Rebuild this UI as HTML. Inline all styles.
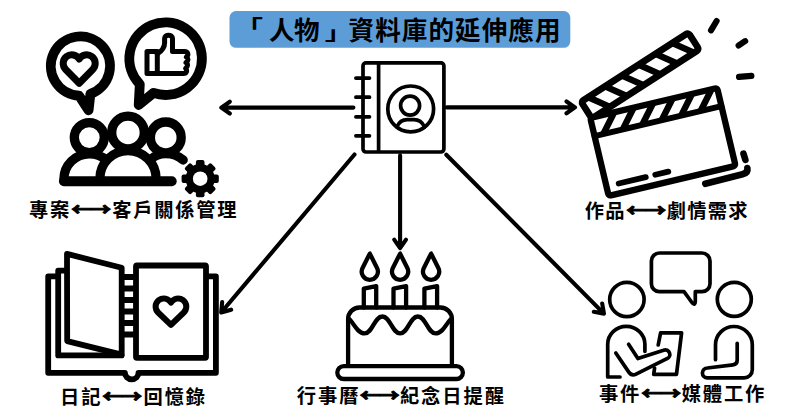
<!DOCTYPE html>
<html lang="zh-Hant">
<head>
<meta charset="utf-8">
<title>「人物」資料庫的延伸應用</title>
<style>
html,body{margin:0;padding:0;background:#fff;}
body{width:800px;height:420px;overflow:hidden;position:relative;font-family:"Liberation Sans","Noto Sans CJK TC",sans-serif;}
svg{position:absolute;left:0;top:0;display:block;}
.t{font-family:"Liberation Sans","Noto Sans CJK TC",sans-serif;font-weight:700;fill:#000;letter-spacing:1.2px;}
.ar{font-family:"Noto Sans CJK TC",sans-serif;font-weight:700;fill:#000;stroke:#000;stroke-width:1;stroke-linejoin:round;}
.ah{fill:#000;stroke:none;}
.s{fill:none;stroke:#000;stroke-width:4.1;stroke-linecap:round;stroke-linejoin:round;}
</style>
</head>
<body>
<svg width="800" height="420" viewBox="0 0 800 420">
<rect x="0" y="0" width="800" height="420" fill="#fff"/>
<!-- title -->
<rect x="229.5" y="11" width="340.8" height="36.8" rx="6.5" ry="6.5" fill="#5c9dd8"/>
<text class="t" font-size="26.2" style="letter-spacing:0" transform="translate(234.7 34.25) scale(1.08 0.75)">「</text>
<text class="t" y="39.6" font-size="25.6" style="letter-spacing:-0.5px"><tspan x="268.9">人物</tspan></text>
<text class="t" font-size="26.2" style="letter-spacing:0" transform="translate(324.85 40.25) scale(1.08 0.75)">」</text>
<text class="t" y="39.6" font-size="25.6" style="letter-spacing:1.03px"><tspan x="348.6">資料庫的延伸應用</tspan></text>

<!-- connector arrows -->
<g class="s">
<path d="M353.4 107.6H221.5M229.8 101.7L221.3 107.6L229.8 113.5"/>
<path d="M446.8 107.4H574.8M566.5 101.5L575 107.4L566.5 113.3"/>
<path d="M400.1 155.4V248M394.2 239.7L400.1 248.2L406 239.7"/>
<path d="M354.5 154.5L221.4 312.3M231.15 309.7L221.2 312.4L222.15 302.1"/>
<path d="M446.3 154.7L603.9 313.6M602.2 303.5L603.96 313.64L593.8 311.8"/>
</g>
<!-- contact book -->
<g class="s" style="stroke-width:3.7">
<rect x="363" y="62.9" width="80.9" height="89.1" rx="3" ry="3"/>
<path style="stroke-linecap:butt" d="M378.6 63V152"/>
<path d="M355.9 78.1H369.5M355.9 97.2H369.5M355.9 116.8H369.5M355.9 135.8H369.5"/>
<circle cx="410.7" cy="108.9" r="22.9"/>
<circle cx="410.1" cy="105.6" r="9.5"/>
<path d="M396.8 127C399 122 403 119.7 407.2 119.7H414C418.2 119.7 422.2 122 424.6 127"/>
</g>
<!-- top-left icon -->
<g class="s" style="stroke-width:9.8">
<path d="M79 95.6A29.6 29.6 0 1 1 90.4 93.9L88.6 110.3Z"/>
<path d="M153.5 92.9L138.7 105L139.8 84.2A36.3 36.3 0 1 1 153.5 92.9Z"/>
</g>
<path class="s" style="stroke-width:7" d="M79.20 83.20L65.67 69.43A8.6 8.6 0 1 1 79.20 59.02A8.6 8.6 0 1 1 92.73 69.43Z"/>
<g class="s" style="stroke-width:5">
<rect x="147" y="51.6" width="10.3" height="21.8"/>
<path d="M157.3 73.4H183.5C186.5 73.4 187.6 70.6 185.6 68.3C188 66.6 188.2 64 186 62.6C188.6 60.8 188.6 58.4 186.4 57C189 55 188 51.6 184.5 51.6H172.5V38.6C172.5 34 164.6 34 164.6 38.6V43C164.6 47 161 51.5 157.3 54"/>
</g>
<g class="s" style="stroke-width:9.3">
<circle cx="89.3" cy="137.6" r="15"/>
<circle cx="128" cy="132.5" r="16.3"/>
<circle cx="165.8" cy="137.4" r="15.4"/>
<path d="M63.9 181V179.2A25.4 25.4 0 0 1 89.3 153.8C97 153.8 103 157 106 160"/>
<path d="M99.9 181V178.7A28.1 28.1 0 0 1 156.1 178.7V181"/>
<path d="M150 160C154 156 160 153.6 165.8 153.6C173 153.6 179 156.3 183.2 160"/>
<path style="stroke-width:9.8" d="M63.9 181.25H171.8"/>
</g>
<circle cx="200.2" cy="178.7" r="14.6" fill="#000"/>
<rect x="195.90" y="160.10" width="8.6" height="8.00" rx="2" ry="2" fill="#000" transform="rotate(0.0 200.2 178.7)"/>
<rect x="195.90" y="160.10" width="8.6" height="8.00" rx="2" ry="2" fill="#000" transform="rotate(45.0 200.2 178.7)"/>
<rect x="195.90" y="160.10" width="8.6" height="8.00" rx="2" ry="2" fill="#000" transform="rotate(90.0 200.2 178.7)"/>
<rect x="195.90" y="160.10" width="8.6" height="8.00" rx="2" ry="2" fill="#000" transform="rotate(135.0 200.2 178.7)"/>
<rect x="195.90" y="160.10" width="8.6" height="8.00" rx="2" ry="2" fill="#000" transform="rotate(180.0 200.2 178.7)"/>
<rect x="195.90" y="160.10" width="8.6" height="8.00" rx="2" ry="2" fill="#000" transform="rotate(225.0 200.2 178.7)"/>
<rect x="195.90" y="160.10" width="8.6" height="8.00" rx="2" ry="2" fill="#000" transform="rotate(270.0 200.2 178.7)"/>
<rect x="195.90" y="160.10" width="8.6" height="8.00" rx="2" ry="2" fill="#000" transform="rotate(315.0 200.2 178.7)"/>
<circle cx="200.2" cy="178.7" r="7.3" fill="#fff"/>
<!-- clapperboard -->
<g transform="translate(581.1 101.82) rotate(-32.8)">
<rect x="0" y="0" width="127.6" height="19.9" fill="#fff" stroke="none"/>
<clipPath id="armclip"><rect x="0" y="0" width="127.6" height="19.9"/></clipPath>
<path class="s" clip-path="url(#armclip)" style="stroke-width:6.4;stroke-linecap:butt" d="M7.2 -1.99L22.8 21.89M27.2 -1.99L42.8 21.89M47.2 -1.99L62.8 21.89M67.2 -1.99L82.8 21.89M87.2 -1.99L102.8 21.89M107.2 -1.99L122.8 21.89"/>
<rect class="s" style="stroke-width:6.7" x="0" y="0" width="127.6" height="19.9" rx="2.6" ry="2.6"/>
</g>
<g transform="translate(590.25 117.93) rotate(-13.3)">
<rect x="0" y="0" width="130.4" height="80.1" fill="#fff" stroke="none"/>
<clipPath id="bandclip"><rect x="0" y="0" width="130.4" height="18.7"/></clipPath>
<path class="s" clip-path="url(#bandclip)" style="stroke-width:6.4;stroke-linecap:butt" d="M7.4 20.57L26.2 -1.87M27.4 20.57L46.2 -1.87M47.4 20.57L66.2 -1.87M67.4 20.57L86.2 -1.87M87.4 20.57L106.2 -1.87M107.4 20.57L126.2 -1.87"/>
<rect class="s" style="stroke-width:6.3" x="0" y="0" width="130.4" height="80.1" rx="2.4" ry="2.4"/>
<path class="s" style="stroke-width:5.8" d="M0 18.7H130.4"/>
<path class="s" style="stroke-width:5.8" d="M12.6 70.4H40.4M50.2 70.2H63.6"/>
</g>
<path class="s" style="stroke-width:6.6" d="M705.3 183.8L742.5 174.3Q748.3 172.8 747.4 168M743.5 153.7L745.4 159.9"/>
<path class="s" style="stroke-width:6.1" d="M716.6 21L711 30.4M745.2 41.1L738.6 45.6M751.4 75.9L739 76.9"/>
<!-- book -->
<g class="s" style="stroke-width:5.8;stroke-linejoin:miter">
<path style="stroke-linejoin:round" d="M57 276.4H48.2V372.8H124.9A6.8 6.5 0 0 0 138.5 372.8H215.9V276.4H208.5"/>
<path style="stroke-linejoin:round" d="M64.5 270.7H58.2V355.4H121.6"/>
<path style="stroke-linejoin:round" fill="#fff" d="M67 253.9L121.7 267.8V354.6L67.2 341.1Z"/>
<rect style="stroke-linejoin:round" fill="#fff" x="136" y="265.5" width="70" height="92.3" rx="1" ry="1"/>
</g>
<path class="s" style="stroke-width:6;stroke-linecap:butt" d="M121.7 276.90H136M121.7 288.40H136M121.7 299.90H136M121.7 311.40H136M121.7 322.90H136M121.7 334.40H136"/>
<path class="s" style="stroke-width:6" d="M170.95 324.90L158.10 312.50A8.2 8.2 0 1 1 170.95 302.59A8.2 8.2 0 1 1 183.80 312.50Z"/>
<!-- cake -->
<g class="s" style="stroke-width:4.3">
<rect x="337.3" y="366.1" width="125.6" height="12.9" rx="6.45" ry="6.45"/>
<path d="M348.1 364V319A11.5 11.5 0 0 1 359.6 307.5H440.4A11.5 11.5 0 0 1 451.9 319V364"/>
<path d="M348.3 318.5C352.5 320 356.5 333.4 364.6 333.4C372.59 333.4 374.36 316.5 382.35 316.5C390.34 316.5 392.11 333.4 400.1 333.4C408.09 333.4 409.86 316.5 417.85 316.5C425.84 316.5 427.61 333.4 435.6 333.4C443.7 333.4 447.7 320 451.9 318.5"/>
<path d="M363.8 307.5V288.6L376.2 286.2V307.5"/>
<path d="M393.5 307.5V288.6L406.1 286.2V307.5"/>
<path d="M424.4 307.5V288.6L437.1 286.2V307.5"/>
<path d="M369.80 253.60L362.56 268.08A8.1 8.1 0 1 0 377.04 268.08Z"/>
<path d="M400.10 253.60L392.86 268.08A8.1 8.1 0 1 0 407.34 268.08Z"/>
<path d="M431.10 253.60L423.86 268.08A8.1 8.1 0 1 0 438.34 268.08Z"/>
</g>
<!-- interview -->
<g class="s" style="stroke-width:3.7">
<path d="M659.4 253H702A8 8 0 0 1 710 261V283.7A8 8 0 0 1 702 291.7H695.3V301.6Q695.3 305.8 692.3 303L684 291.7H659.4A8 8 0 0 1 651.4 283.7V261A8 8 0 0 1 659.4 253Z"/>
<circle cx="626.9" cy="299.5" r="17.2"/>
<circle cx="734.3" cy="299.3" r="17"/>
<path d="M620 377H607.7V344.3A18.6 17.85 0 0 1 644.9 344.3V351.3"/>
<path d="M628.6 344.3L637.9 358.6L663.6 350.2A4.5 4.5 0 0 1 666.9 358.7L636.07 374.06Q631.6 376.3 628.79 372.16L615.8 353"/>
<path d="M658.2 345L660.6 332.8H681.6L676.5 374.3H653.7L654.6 368"/>
<path d="M715.5 359.7V344.9A18.4 18.4 0 0 1 752.3 344.9V369.8A8 8 0 0 1 744.3 377.8H707.3A4.9 4.9 0 0 1 707.3 368L733 364.8Q737.2 364.4 737.2 360.3V343.3"/>
</g>
<!-- labels -->
<text class="t" font-size="19.3" style="letter-spacing:1.75px" x="29.1" y="217.0">專案</text>
<text class="ar" font-size="17" text-anchor="middle" transform="translate(90.5 215.8) scale(1.21 1)" style="letter-spacing:-1px">←→</text>
<text class="t" font-size="19.3" style="letter-spacing:1.75px" x="112.2" y="217.0">客戶關係管理</text>
<text class="t" font-size="19.3" style="letter-spacing:1.25px" x="584.7" y="218.0">作品</text>
<text class="ar" font-size="17" text-anchor="middle" transform="translate(645.5 216.8) scale(1.21 1)" style="letter-spacing:-1px">←→</text>
<text class="t" font-size="19.3" style="letter-spacing:1.25px" x="666.7" y="218.0">劇情需求</text>
<text class="t" font-size="19.3" style="letter-spacing:1.9px" x="60.0" y="404.1">日記</text>
<text class="ar" font-size="17" text-anchor="middle" transform="translate(121.5 402.9) scale(1.21 1)" style="letter-spacing:-1px">←→</text>
<text class="t" font-size="19.3" style="letter-spacing:1.9px" x="143.5" y="404.1">回憶錄</text>
<text class="t" font-size="19.3" style="letter-spacing:1.95px" x="296.8" y="403.3">行事曆</text>
<text class="ar" font-size="17" text-anchor="middle" transform="translate(379.1 402.1) scale(1.21 1)" style="letter-spacing:-1px">←→</text>
<text class="t" font-size="19.3" style="letter-spacing:1.95px" x="399.9" y="403.3">紀念日提醒</text>
<text class="t" font-size="19.3" style="letter-spacing:1.85px" x="598.9" y="400.8">事件</text>
<text class="ar" font-size="17" text-anchor="middle" transform="translate(660.6 399.6) scale(1.21 1)" style="letter-spacing:-1px">←→</text>
<text class="t" font-size="19.3" style="letter-spacing:1.85px" x="681.7" y="400.8">媒體工作</text>
</svg>
</body>
</html>
